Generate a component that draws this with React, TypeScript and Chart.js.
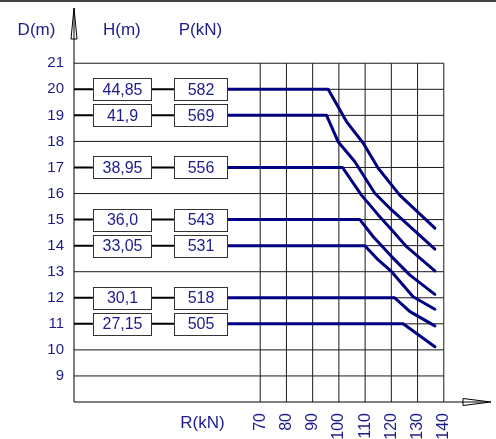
import React, { useEffect, useRef } from "react";
import { Chart, registerables } from "chart.js";

Chart.register(...registerables);

// ---- data ----
const xTicks = [70, 80, 90, 100, 110, 120, 130, 140];
const yTicks = [9, 10, 11, 12, 13, 14, 15, 16, 17, 18, 19, 20, 21];
const depths = [20, 19, 17, 15, 14, 12, 11];
const heights = ["44,85", "41,9", "38,95", "36,0", "33,05", "30,1", "27,15"];
const loads = ["582", "569", "556", "543", "531", "518", "505"];

const r20 = [57, 95.9, 102.9, 109.3, 115.0, 123.2, 136.6];
const d20 = [20, 20, 18.76, 17.93, 16.97, 15.94, 14.67];
const r19 = [57, 95.3, 99.7, 106.1, 113.7, 120.1, 136.6];
const d19 = [19, 19, 17.99, 17.22, 16.01, 15.37, 13.87];
const r17 = [57, 101.4, 108.6, 115.0, 120.7, 125.8, 136.6];
const d17 = [17, 17, 15.94, 15.18, 14.54, 13.96, 13.03];
const r15 = [57, 108.0, 113.1, 120.1, 127.1, 136.6];
const d15 = [15, 15, 14.34, 13.58, 12.87, 12.13];
const r14 = [57, 109.9, 115.0, 120.1, 128.3, 136.6];
const d14 = [14, 14, 13.45, 13.0, 12.04, 11.56];
const r12 = [57, 121.3, 127.1, 136.6];
const d12 = [12, 12, 11.47, 10.92];
const r11 = [57, 124.5, 136.6];
const d11 = [11, 11, 10.12];

const curves = [
  [r20, d20],
  [r19, d19],
  [r17, d17],
  [r15, d15],
  [r14, d14],
  [r12, d12],
  [r11, d11],
];

// ---- styles ----
const FONT = '"Liberation Sans", Arial, sans-serif';
const NAVY = "#000080";
const TEXT = "#1c1c8c";
// box extents in x-scale units
const H_L = 6.2, H_R = 28.3, P_L = 37.1, P_R = 57.3;
const BOX_H = 22;

const decor = {
  id: "decor",
  beforeDatasetsDraw(chart: any) {
    const { ctx, chartArea } = chart;
    const x = chart.scales.x;
    const y = chart.scales.y;
    const x0 = chartArea.left;
    const yb = chartArea.bottom;
    ctx.save();
    // top border
    ctx.strokeStyle = "#000";
    ctx.lineWidth = 1.5;
    ctx.beginPath();
    ctx.moveTo(0, 1);
    ctx.lineTo(chart.width, 1);
    ctx.stroke();

    const gx1 = x.getPixelForValue(xTicks[xTicks.length - 1]);
    const gyTop = y.getPixelForValue(yTicks[yTicks.length - 1]);
    ctx.strokeStyle = "#1a1a1a";
    ctx.lineWidth = 1;
    for (const v of xTicks) {
      const px = x.getPixelForValue(v);
      ctx.beginPath();
      ctx.moveTo(px, yb);
      ctx.lineTo(px, gyTop);
      ctx.stroke();
    }
    for (const v of yTicks) {
      const py = y.getPixelForValue(v);
      const start = depths.includes(v) ? x.getPixelForValue(P_R) : x0;
      ctx.beginPath();
      ctx.moveTo(start, py);
      ctx.lineTo(gx1, py);
      ctx.stroke();
    }
    // connectors
    ctx.strokeStyle = "#000";
    ctx.lineWidth = 2;
    for (const d of depths) {
      const py = y.getPixelForValue(d);
      ctx.beginPath();
      ctx.moveTo(x0, py);
      ctx.lineTo(x.getPixelForValue(H_L), py);
      ctx.moveTo(x.getPixelForValue(H_R), py);
      ctx.lineTo(x.getPixelForValue(P_L), py);
      ctx.stroke();
    }
    // axes
    ctx.lineWidth = 1;
    ctx.strokeStyle = "#000";
    ctx.beginPath();
    ctx.moveTo(x0, yb);
    ctx.lineTo(x0, chartArea.top);
    ctx.moveTo(x0, yb);
    ctx.lineTo(chartArea.right - 4, yb);
    ctx.stroke();
    // y arrow
    ctx.beginPath();
    ctx.moveTo(x0, chartArea.top);
    ctx.lineTo(x0 - 3, chartArea.top + 31);
    ctx.lineTo(x0 + 3, chartArea.top + 31);
    ctx.closePath();
    ctx.stroke();
    // x arrow
    ctx.beginPath();
    ctx.moveTo(chartArea.right, yb);
    ctx.lineTo(chartArea.right - 28, yb - 3.5);
    ctx.lineTo(chartArea.right - 28, yb + 3.5);
    ctx.closePath();
    ctx.stroke();
    ctx.restore();
  },
  afterDatasetsDraw(chart: any) {
    const { ctx } = chart;
    const x = chart.scales.x;
    const y = chart.scales.y;
    ctx.save();
    const hl = x.getPixelForValue(H_L), hr = x.getPixelForValue(H_R);
    const pl = x.getPixelForValue(P_L), pr = x.getPixelForValue(P_R);
    ctx.font = `16px ${FONT}`;
    ctx.textAlign = "center";
    ctx.textBaseline = "middle";
    depths.forEach((d, i) => {
      const py = y.getPixelForValue(d);
      const top = Math.round(py - BOX_H / 2) + 0.5;
      for (const [l, r, t] of [[hl, hr, heights[i]], [pl, pr, loads[i]]] as any) {
        const L = Math.round(l) + 0.5, R = Math.round(r) + 0.5;
        ctx.fillStyle = "#fff";
        ctx.fillRect(L, top, R - L, BOX_H);
        ctx.strokeStyle = "#333";
        ctx.lineWidth = 1;
        ctx.strokeRect(L, top, R - L, BOX_H);
        ctx.fillStyle = TEXT;
        ctx.fillText(t, (L + R) / 2, py + 1);
      }
    });
    // headers
    ctx.font = `17px ${FONT}`;
    ctx.fillStyle = TEXT;
    ctx.fillText("D(m)", 36.5, 30);
    ctx.fillText("H(m)", (hl + hr) / 2, 30);
    ctx.fillText("P(kN)", (pl + pr) / 2, 30);
    ctx.fillText("R(kN)", (pl + pr) / 2 + 2, 423);
    ctx.restore();
  },
};

export default function App() {
  const ref = useRef<HTMLCanvasElement | null>(null);
  useEffect(() => {
    if (!ref.current) return;
    const chart = new Chart(ref.current, {
      type: "scatter",
      data: {
        datasets: curves.map(([rs, ds]) => ({
          data: rs.map((r, i) => ({ x: r, y: ds[i] })),
          showLine: true,
          borderColor: NAVY,
          backgroundColor: NAVY,
          borderWidth: 3,
          borderCapStyle: "round",
          borderJoinStyle: "round",
          pointRadius: 0,
          tension: 0,
        })),
      },
      options: {
        responsive: false,
        animation: false,
        layout: { autoPadding: false, padding: { left: 0, right: 5, top: 8, bottom: 0 } },
        plugins: { legend: { display: false }, tooltip: { enabled: false } },
        scales: {
          x: {
            type: "linear",
            min: -1,
            max: 158,
            grid: { display: false, drawTicks: false },
            border: { display: false },
            ticks: {
              autoSkip: false,
              minRotation: 90,
              maxRotation: 90,
              padding: 11,
              color: TEXT,
              font: { family: FONT, size: 16 },
            },
            afterBuildTicks: (s: any) => {
              s.ticks = xTicks.map((v) => ({ value: v }));
            },
            afterFit: (s: any) => {
              s.height = 37;
              s.paddingLeft = 0;
              s.paddingRight = 0;
              s.paddingTop = 0;
              s.paddingBottom = 0;
            },
          },
          y: {
            type: "linear",
            min: 8,
            max: 23.12,
            grid: { display: false, drawTicks: false },
            border: { display: false },
            ticks: {
              autoSkip: false,
              padding: 10,
              color: TEXT,
              font: { family: FONT, size: 15 },
            },
            afterBuildTicks: (s: any) => {
              s.ticks = yTicks.map((v) => ({ value: v }));
            },
            afterFit: (s: any) => {
              s.width = 74;
              s.paddingLeft = 0;
              s.paddingRight = 0;
              s.paddingTop = 0;
              s.paddingBottom = 0;
            },
          },
        },
      },
      plugins: [decor],
    } as any);
    return () => chart.destroy();
  }, []);
  return (
    <div style={{ position: "fixed", left: 0, top: 0, width: 496, height: 439, background: "#fff" }}>
      <canvas ref={ref} width={496} height={439} style={{ display: "block" }} />
    </div>
  );
}
